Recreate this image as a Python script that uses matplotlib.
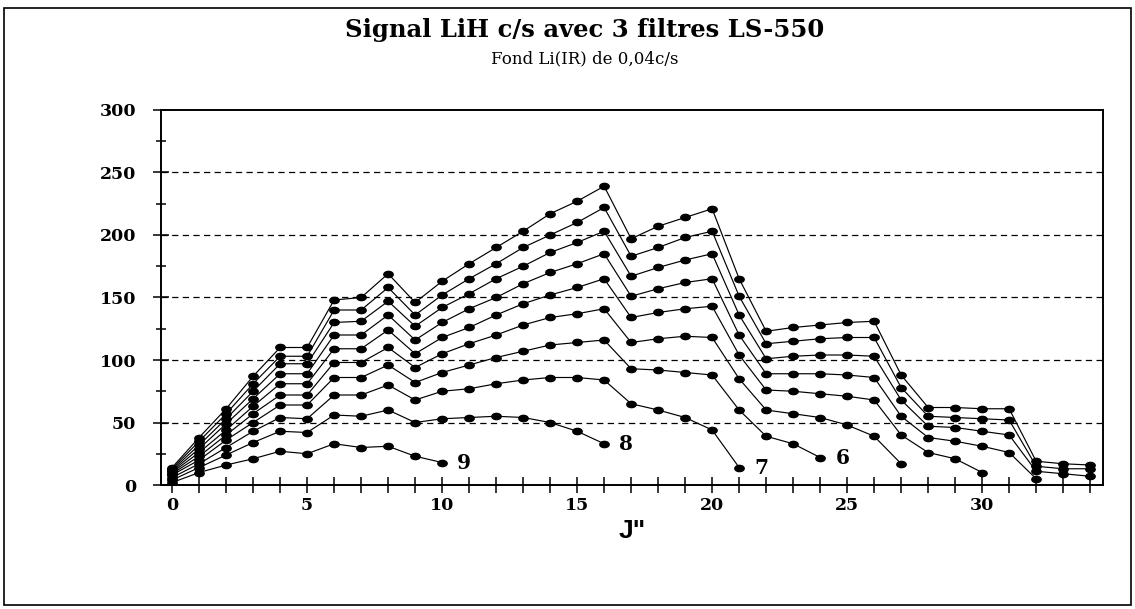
import matplotlib
matplotlib.use("Agg")
import matplotlib.pyplot as plt
from matplotlib.markers import MarkerStyle
from matplotlib.transforms import Affine2D
from matplotlib.patches import Rectangle

# Valeurs (signal c/s en fonction de J", à partir de J"=0)
courbe_a = [2, 10, 16, 21, 27, 25, 33, 30, 31, 23, 18]
courbe_b = [4, 14, 24, 34, 43, 42, 56, 55, 60, 50, 53, 54, 55, 54, 50, 43, 33]
courbe_c = [6, 17, 30, 43, 54, 53, 72, 72, 80, 68, 75, 77, 81, 84, 86, 86, 84,
            65, 60, 54, 44, 14]
courbe_d = [8, 20, 36, 50, 64, 64, 86, 86, 96, 82, 90, 96, 102, 107, 112, 114, 116,
            93, 92, 90, 88, 60, 39, 33, 22]
courbe_e = [9, 23, 40, 57, 72, 72, 98, 98, 110, 94, 105, 113, 120, 128, 134, 137, 141,
            114, 117, 119, 118, 85, 60, 57, 54, 48, 39, 17]
courbe_f = [10, 26, 44, 63, 81, 81, 109, 109, 124, 105, 118, 126, 136, 145, 152, 158, 165,
            134, 138, 141, 143, 104, 76, 75, 73, 71, 68, 40, 26, 21, 10]
courbe_g = [11, 29, 49, 69, 89, 89, 120, 120, 136, 116, 130, 141, 150, 161, 170, 177, 185,
            151, 157, 162, 165, 120, 89, 89, 89, 88, 86, 55, 38, 35, 31, 26, 5]
courbe_h = [12, 32, 53, 75, 97, 97, 130, 131, 147, 127, 142, 153, 165, 175, 186, 194, 203,
            167, 174, 180, 185, 136, 101, 103, 104, 104, 103, 68, 47, 46, 43, 40, 11, 9, 7]
courbe_i = [13, 35, 57, 81, 103, 103, 140, 140, 158, 136, 152, 165, 177, 190, 200, 210, 222,
            183, 190, 198, 203, 151, 113, 115, 117, 118, 118, 78, 55, 54, 53, 52, 15, 13, 13]
courbe_j = [14, 38, 61, 87, 110, 110, 148, 150, 169, 146, 163, 177, 190, 203, 217, 227, 239,
            197, 207, 214, 221, 165, 123, 126, 128, 130, 131, 88, 62, 62, 61, 61, 19, 17, 16]

courbes = [courbe_a, courbe_b, courbe_c, courbe_d, courbe_e,
           courbe_f, courbe_g, courbe_h, courbe_i, courbe_j]
etiquettes = ["9", "8", "7", "6"]  # pour les 4 courbes du bas

titre = "Signal LiH c/s avec 3 filtres LS-550"
sous_titre = "Fond Li(IR) de 0,04c/s"

fig = plt.figure(figsize=(11.35, 6.09), dpi=100)
ax = fig.add_axes([0.1419, 0.2036, 0.830, 0.6158])

# marqueur ovale (plus large que haut)
ovale = MarkerStyle("o", transform=Affine2D().scale(1.5, 1.0))

for c in courbes:
    x = list(range(len(c)))
    ax.plot(x, c, color="black", lw=0.85, marker=ovale, markersize=4.5,
            markerfacecolor="black", markeredgecolor="black", zorder=3)

for lab, c in zip(etiquettes, courbes):
    ax.annotate(lab, (len(c) - 1, c[-1]), xytext=(16, 0), textcoords="offset points",
                ha="center", va="center", fontsize=14.5, fontweight="bold",
                family="DejaVu Serif")

ax.set_xlim(-0.41, 34.48)
ax.set_ylim(0, 300)
ax.set_xticks(range(0, 35), minor=True)
ax.set_xticks(range(0, 31, 5))
ax.set_yticks(range(0, 301, 50))
ax.set_yticks(range(25, 300, 50), minor=True)

for lab in ax.get_xticklabels() + ax.get_yticklabels():
    lab.set_family("DejaVu Serif")
    lab.set_fontweight("bold")
    lab.set_fontsize(12.5)

ax.tick_params(axis="x", which="both", direction="inout", length=11, width=1.1, pad=3)
ax.tick_params(axis="y", which="major", direction="inout", length=12, width=1.1, pad=12)
ax.tick_params(axis="y", which="minor", direction="inout", length=7, width=1.1)

for y in range(50, 300, 50):
    ax.axhline(y, color="black", lw=0.9, ls=(0, (5, 3.5)), zorder=1)

for s in ax.spines.values():
    s.set_linewidth(1.4)

ax.set_xlabel('J"', fontsize=19, fontweight="bold", family="Liberation Sans", labelpad=4)

fig.text(0.515, 0.951, titre, ha="center", va="center", fontsize=17.5,
         fontweight="bold", family="DejaVu Serif")
fig.text(0.515, 0.903, sous_titre, ha="center", va="center", fontsize=12,
         family="DejaVu Serif")

# cadre autour du graphique
fig.patches.append(Rectangle((0.0035, 0.0065), 0.993, 0.981, transform=fig.transFigure,
                             fill=False, lw=1.2, edgecolor="black"))

fig.savefig("out.png", dpi=100)
